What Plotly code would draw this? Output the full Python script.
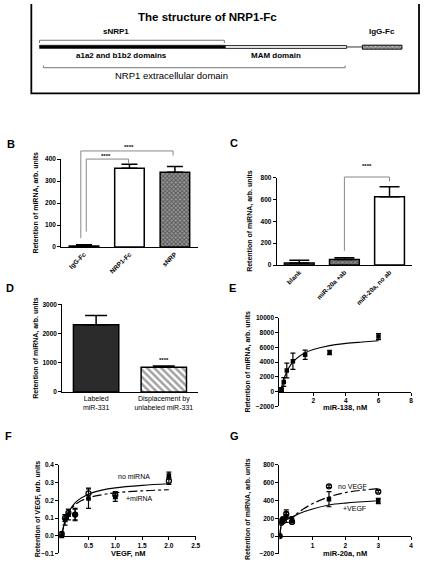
import plotly.graph_objects as go

W, H = 425, 572
FONT = "Liberation Sans, Arial, sans-serif"

# ---------------- data ----------------
b_cats = ["IgG-Fc", "NRP1-Fc", "sNRP"]
b_vals = [5, 358, 340]
b_err = [5, 18, 26]

c_cats = ["blank", "miR-20a +ab", "miR-20a, no ab"]
c_vals = [18, 50, 625]
c_err = [27, 16, 92]

d_cats = ["Labeled<br>miR-331", "Displacement by<br>unlabeled miR-331"]
d_vals = [2300, 840]
d_err = [320, 45]

e_x = [0.02, 0.05, 0.19, 0.375, 0.75, 1.5, 3.0, 6.0]
e_y = [300, 200, 1300, 2850, 4100, 5000, 5300, 7450]
e_err = [250, 200, 600, 1000, 1100, 630, 300, 400]
e_fit_x = [0, 0.1, 0.25, 0.5, 0.75, 1, 1.5, 2, 3, 4, 5, 6]
e_fit_y = [0, 950, 2050, 3220, 3980, 4530, 5250, 5700, 6240, 6530, 6720, 6890]

f_x = [0, 0.0625, 0.125, 0.25, 0.5, 1.0, 2.0]
f_nomi_y = [0.01, 0.10, 0.13, 0.12, 0.24, 0.23, 0.31]
f_nomi_err = [0.01, 0.02, 0.02, 0.03, 0.03, 0.02, 0.02]
f_mi_y = [0.0, 0.09, 0.12, 0.12, 0.21, 0.22, 0.34]
f_mi_err = [0.01, 0.03, 0.03, 0.035, 0.055, 0.025, 0.02]
f_fit_x = [0, 0.05, 0.1, 0.2, 0.3, 0.5, 0.75, 1, 1.5, 2]
f_fit_nomi = [0, 0.070, 0.114, 0.168, 0.200, 0.235, 0.258, 0.271, 0.285, 0.294]
f_fit_mi = [0, 0.070, 0.112, 0.160, 0.187, 0.215, 0.232, 0.243, 0.254, 0.260]

g_x = [0, 0.05, 0.1, 0.2, 0.375, 1.5, 3.0]
g_novegf_y = [0, 150, 190, 250, 160, 560, 500]
g_novegf_err = [0, 10, 15, 20, 12, 15, 15]
g_vegf_y = [0, 170, 175, 225, 185, 415, 395]
g_vegf_err = [0, 20, 30, 70, 35, 85, 30]
g_fit_x = [0, 0.08, 0.2, 0.375, 0.6, 1, 1.5, 2, 3]
g_fit_vegf = [0, 160, 195, 215, 255, 305, 350, 372, 398]
g_fit_novegf = [0, 150, 185, 210, 275, 365, 440, 490, 535]

# significance brackets (data units)
b_brk1_x = [0.05, 0.05, 0.98, 0.98]
b_brk1_y = [70, 400, 400, 378]
b_brk2_x = [-0.07, -0.07, 1.96, 1.96]
b_brk2_y = [40, 437, 437, 416]
c_brk_x = [1, 1, 2, 2]
c_brk_y = [130, 805, 805, 765]


def fx(px):
    return px / W


def fy(py):
    return 1 - py / H


fig = go.Figure()

tickfont = dict(family=FONT, size=6.5, color="black", weight="bold")


def yax(dom, rng, tickvals, anchor, fmt="d"):
    return dict(domain=dom, range=rng, tickvals=tickvals, anchor=anchor,
                showline=True, linecolor="black", linewidth=1, ticks="outside",
                ticklen=3, tickwidth=1, tickcolor="black", showgrid=False,
                zeroline=False, tickfont=tickfont, tickformat=fmt)


def xbar(dom, n, cats, anchor, angle=-45, font=None):
    return dict(domain=dom, range=[-0.5, n - 0.5], tickvals=list(range(n)),
                ticktext=cats, tickangle=angle, anchor=anchor, showline=True,
                linecolor="black", linewidth=1, ticks="", showgrid=False,
                zeroline=False, tickfont=font or tickfont)


def xnum(dom, rng, tickvals, pos, fmt="d"):
    return dict(domain=dom, range=rng, tickvals=tickvals, anchor="free",
                position=pos, showline=True, linecolor="black", linewidth=1,
                ticks="outside", ticklen=3, tickwidth=1, tickcolor="black",
                showgrid=False, zeroline=False, tickfont=tickfont, tickformat=fmt)


BL = dict(color="black", width=1.5)
PAT = dict(size=3, solidity=0.55, fgcolor="#111", bgcolor="#9a9a9a")

# ---------- B ----------
bx = [fx(62), fx(200)]
by = [fy(246), fy(157)]
by_ext = [fy(246), fy(140)]
b_top = 400 * (by_ext[1] - by_ext[0]) / (by[1] - by[0])
fig.add_trace(go.Bar(
    x=list(range(len(b_cats))), y=b_vals, width=0.65, xaxis="x", yaxis="y",
    marker=dict(color="white", line=BL, pattern=dict(shape=["", "", "x"], **PAT)),
    error_y=dict(type="data", array=b_err, arrayminus=[0] * 3, symmetric=False,
                 color="black", thickness=1.5, width=8),
    showlegend=False))
for bxs, bys in [(b_brk1_x, b_brk1_y), (b_brk2_x, b_brk2_y)]:
    fig.add_trace(go.Scatter(x=bxs, y=bys, mode="lines", xaxis="x", yaxis="y7",
                             line=dict(color="#888", width=1), showlegend=False))

# ---------- C ----------
cx = [fx(280), fx(417)]
cy = [fy(264.3), fy(175.7)]
cy_ext = [fy(264.3), fy(150)]
c_top = 800 * (cy_ext[1] - cy_ext[0]) / (cy[1] - cy[0])
fig.add_trace(go.Bar(
    x=list(range(len(c_cats))), y=c_vals, width=0.66, xaxis="x2", yaxis="y2",
    marker=dict(color="white", line=BL, pattern=dict(shape=["x", "x", ""], **PAT)),
    error_y=dict(type="data", array=c_err, arrayminus=[0] * 3, symmetric=False,
                 color="black", thickness=1.5, width=10),
    showlegend=False))
fig.add_trace(go.Scatter(x=c_brk_x, y=c_brk_y, mode="lines", xaxis="x2", yaxis="y8",
                         line=dict(color="#888", width=1), showlegend=False))

# ---------- D ----------
dx = [fx(63), fx(200)]
dy = [fy(392.7), fy(304)]
fig.add_trace(go.Bar(
    x=list(range(len(d_cats))), y=d_vals, width=0.67, xaxis="x3", yaxis="y3",
    marker=dict(color=["#2b2b2b", "white"], line=BL,
                pattern=dict(shape=["", "\\"], size=5, solidity=0.5,
                             fgcolor="#111", bgcolor="white")),
    error_y=dict(type="data", array=d_err, arrayminus=[0] * 2, symmetric=False,
                 color="black", thickness=1.5, width=11),
    showlegend=False))

# ---------- E ----------
ex = [fx(282.7), fx(416)]
ey = [fy(407.3), fy(317.7)]
e_rng = [-2000, 10000]
e_pos = ey[0] + (0 - e_rng[0]) / (e_rng[1] - e_rng[0]) * (ey[1] - ey[0])
fig.add_trace(go.Scatter(x=e_fit_x, y=e_fit_y, mode="lines", line_shape="spline",
                         xaxis="x4", yaxis="y4", line=dict(color="black", width=1.2),
                         showlegend=False))
fig.add_trace(go.Scatter(x=e_x, y=e_y, mode="markers", xaxis="x4", yaxis="y4",
                         marker=dict(symbol="square", size=4.5, color="black"),
                         error_y=dict(type="data", array=e_err, color="black",
                                      thickness=1.2, width=2.5),
                         showlegend=False))

# ---------- F ----------
fxd = [fx(60), fx(198)]
fyd = [fy(556.3), fy(466.7)]
f_rng = [-0.1, 0.4]
f_pos = fyd[0] + (0 - f_rng[0]) / (f_rng[1] - f_rng[0]) * (fyd[1] - fyd[0])
fig.add_trace(go.Scatter(x=f_fit_x, y=f_fit_nomi, mode="lines", line_shape="spline",
                         xaxis="x5", yaxis="y5", line=dict(color="black", width=1.2),
                         showlegend=False))
fig.add_trace(go.Scatter(x=f_fit_x, y=f_fit_mi, mode="lines", line_shape="spline",
                         xaxis="x5", yaxis="y5",
                         line=dict(color="black", width=1.2, dash="dashdot"),
                         showlegend=False))
fig.add_trace(go.Scatter(x=f_x, y=f_mi_y, mode="markers", xaxis="x5", yaxis="y5",
                         marker=dict(symbol="square", size=4.5, color="black"),
                         error_y=dict(type="data", array=f_mi_err, color="black",
                                      thickness=1.2, width=2.5),
                         showlegend=False))
fig.add_trace(go.Scatter(x=f_x, y=f_nomi_y, mode="markers", xaxis="x5", yaxis="y5",
                         marker=dict(symbol="circle-open", size=5, color="black",
                                     line=dict(width=1.3)),
                         error_y=dict(type="data", array=f_nomi_err, color="black",
                                      thickness=1.2, width=2.5),
                         showlegend=False))

# ---------- G ----------
gxd = [fx(282.7), fx(416)]
gyd = [fy(556.7), fy(466.7)]
g_rng = [-200, 800]
g_pos = gyd[0] + (0 - g_rng[0]) / (g_rng[1] - g_rng[0]) * (gyd[1] - gyd[0])
fig.add_trace(go.Scatter(x=g_fit_x, y=g_fit_vegf, mode="lines", line_shape="spline",
                         xaxis="x6", yaxis="y6", line=dict(color="black", width=1.2),
                         showlegend=False))
fig.add_trace(go.Scatter(x=g_fit_x, y=g_fit_novegf, mode="lines", line_shape="spline",
                         xaxis="x6", yaxis="y6",
                         line=dict(color="black", width=1.2, dash="dashdot"),
                         showlegend=False))
fig.add_trace(go.Scatter(x=g_x, y=g_vegf_y, mode="markers", xaxis="x6", yaxis="y6",
                         marker=dict(symbol="square", size=4.5, color="black"),
                         error_y=dict(type="data", array=g_vegf_err, color="black",
                                      thickness=1.2, width=2.5),
                         showlegend=False))
fig.add_trace(go.Scatter(x=g_x, y=g_novegf_y, mode="markers", xaxis="x6", yaxis="y6",
                         marker=dict(symbol="circle-open", size=5, color="black",
                                     line=dict(width=1.3)),
                         error_y=dict(type="data", array=g_novegf_err, color="black",
                                      thickness=1.2, width=2.5),
                         showlegend=False))

# ---------- A (schematic, pixel overlay axis) ----------
igg_x = [366.7, 406.7, 406.7, 366.7, 366.7]
igg_y = [41.7, 41.7, 45.7, 45.7, 41.7]
fig.add_trace(go.Scatter(x=igg_x, y=igg_y, mode="lines", fill="toself",
                         xaxis="x9", yaxis="y9",
                         fillpattern=dict(shape="x", size=3, solidity=0.5,
                                          fgcolor="#333", bgcolor="#bbb"),
                         line=dict(color="black", width=1), showlegend=False))

shapes = []
A = dict(xref="x9", yref="y9")
shapes.append(dict(type="rect", x0=31.7, x1=424, y0=-5, y1=90.5,
                   line=dict(color="black", width=1.8), **A))
shapes.append(dict(type="rect", x0=40, x1=228, y0=41.7, y1=45,
                   fillcolor="black", line=dict(color="black", width=0.5), **A))
shapes.append(dict(type="rect", x0=228, x1=350.7, y0=42, y1=45,
                   fillcolor="#e6e6e6", line=dict(color="#333", width=1), **A))
shapes.append(dict(type="line", x0=350.7, x1=366.7, y0=43.5, y1=43.5,
                   line=dict(color="#333", width=1), **A))
shapes.append(dict(type="path", path="M 40,39.5 L 40,36.7 L 227,36.7 L 227,39.5",
                   line=dict(color="#777", width=1), **A))
shapes.append(dict(type="path", path="M 44,62.3 L 44,64.5 L 349.3,64.5 L 349.3,62.3",
                   line=dict(color="#777", width=1), **A))

ann = []


def at(text, x, y, size, bold=True, ref=("x9", "y9"), angle=0, xanchor="center"):
    ann.append(dict(text=text, x=x, y=y, xref=ref[0], yref=ref[1], showarrow=False,
                    textangle=angle, xanchor=xanchor, yanchor="middle",
                    font=dict(family=FONT, size=size, color="black",
                              weight="bold" if bold else "normal")))


at("The structure of NRP1-Fc", 210, 13.5, 11.5)
at("sNRP1", 117, 28, 8)
at("IgG-Fc", 386.7, 28, 8)
at("a1a2 and b1b2 domains", 122.5, 52.3, 8)
at("MAM domain", 279, 52.3, 8)
at("NRP1 extracellular domain", 173.7, 72.7, 9.5, bold=False)
at("A", 6, -3, 11)

P = ("paper", "paper")
for lab, px, py in [("B", 11, 142), ("C", 237, 141), ("D", 10, 288),
                    ("E", 235, 288), ("F", 9, 437), ("G", 237, 437)]:
    at(lab, fx(px), fy(py), 11, ref=P)

ytitle = "Retention of miRNA, arb. units"
at(ytitle, fx(36), fy(201.5), 7, ref=P, angle=-90)
at(ytitle, fx(253.5), fy(220), 7, ref=P, angle=-90)
at(ytitle, fx(36.5), fy(348), 7, ref=P, angle=-90)
at(ytitle, fx(251.5), fy(362.5), 7, ref=P, angle=-90)
at("Retention of VEGF, arb. units", fx(38.5), fy(511.5), 7, ref=P, angle=-90)
at(ytitle, fx(251.5), fy(511.7), 7, ref=P, angle=-90)
at("miR-138, nM", fx(349), fy(408.5), 7.5, ref=P)
at("VEGF, nM", fx(130), fy(556), 7.5, ref=P)
at("miR-20a, nM", fx(348.7), fy(556.7), 7.5, ref=P)

# stars
at("****", 0.49, 415, 6, ref=("x", "y7"))
at("****", 1.0, 457, 6, ref=("x", "y7"))
at("****", 1.5, 905, 6, ref=("x2", "y8"))
at("****", 1.0, 1090, 6, ref=("x3", "y3"))

# curve labels
at("no miRNA", 1.34, 0.337, 7, bold=False, ref=("x5", "y5"))
at("+miRNA", 1.46, 0.21, 7, bold=False, ref=("x5", "y5"))
at("no VEGF", 2.22, 559, 7, bold=False, ref=("x6", "y6"))
at("+VEGF", 2.27, 314, 7, bold=False, ref=("x6", "y6"))

dfont = dict(family=FONT, size=7, color="black", weight="normal")

fig.update_layout(
    width=W, height=H, margin=dict(l=0, r=0, t=0, b=0),
    paper_bgcolor="white", plot_bgcolor="rgba(0,0,0,0)",
    showlegend=False, shapes=shapes, annotations=ann,
    font=dict(family=FONT, color="black"),
    xaxis=xbar(bx, 3, b_cats, "y"),
    yaxis=yax(by, [0, 400], [0, 100, 200, 300, 400], "x"),
    yaxis7=dict(domain=by_ext, range=[0, b_top], visible=False, anchor="x"),
    xaxis2=xbar(cx, 3, c_cats, "y2"),
    yaxis2=yax(cy, [0, 800], [0, 200, 400, 600, 800], "x2"),
    yaxis8=dict(domain=cy_ext, range=[0, c_top], visible=False, anchor="x2"),
    xaxis3=xbar(dx, 2, d_cats, "y3", angle=0, font=dfont),
    yaxis3=yax(dy, [0, 3000], [0, 1000, 2000, 3000], "x3"),
    xaxis4=xnum(ex, [-0.08, 8], [2, 4, 6, 8], e_pos),
    yaxis4=yax(ey, e_rng, [-2000, 0, 2000, 4000, 6000, 8000, 10000], "x4"),
    xaxis5=xnum(fxd, [-0.045, 2.5], [0.5, 1.0, 1.5, 2.0, 2.5], f_pos, ".1f"),
    yaxis5=yax(fyd, f_rng, [-0.1, 0, 0.1, 0.2, 0.3, 0.4], "x5", ".1f"),
    xaxis6=xnum(gxd, [-0.01, 4], [1, 2, 3, 4], g_pos),
    yaxis6=yax(gyd, g_rng, [-200, 0, 200, 400, 600, 800], "x6"),
    xaxis9=dict(domain=[0, 1], range=[0, W], visible=False, anchor="y9"),
    yaxis9=dict(domain=[1 - 100 / H, 1], range=[100, 0], visible=False, anchor="x9"),
)

fig.write_html("out.html")
